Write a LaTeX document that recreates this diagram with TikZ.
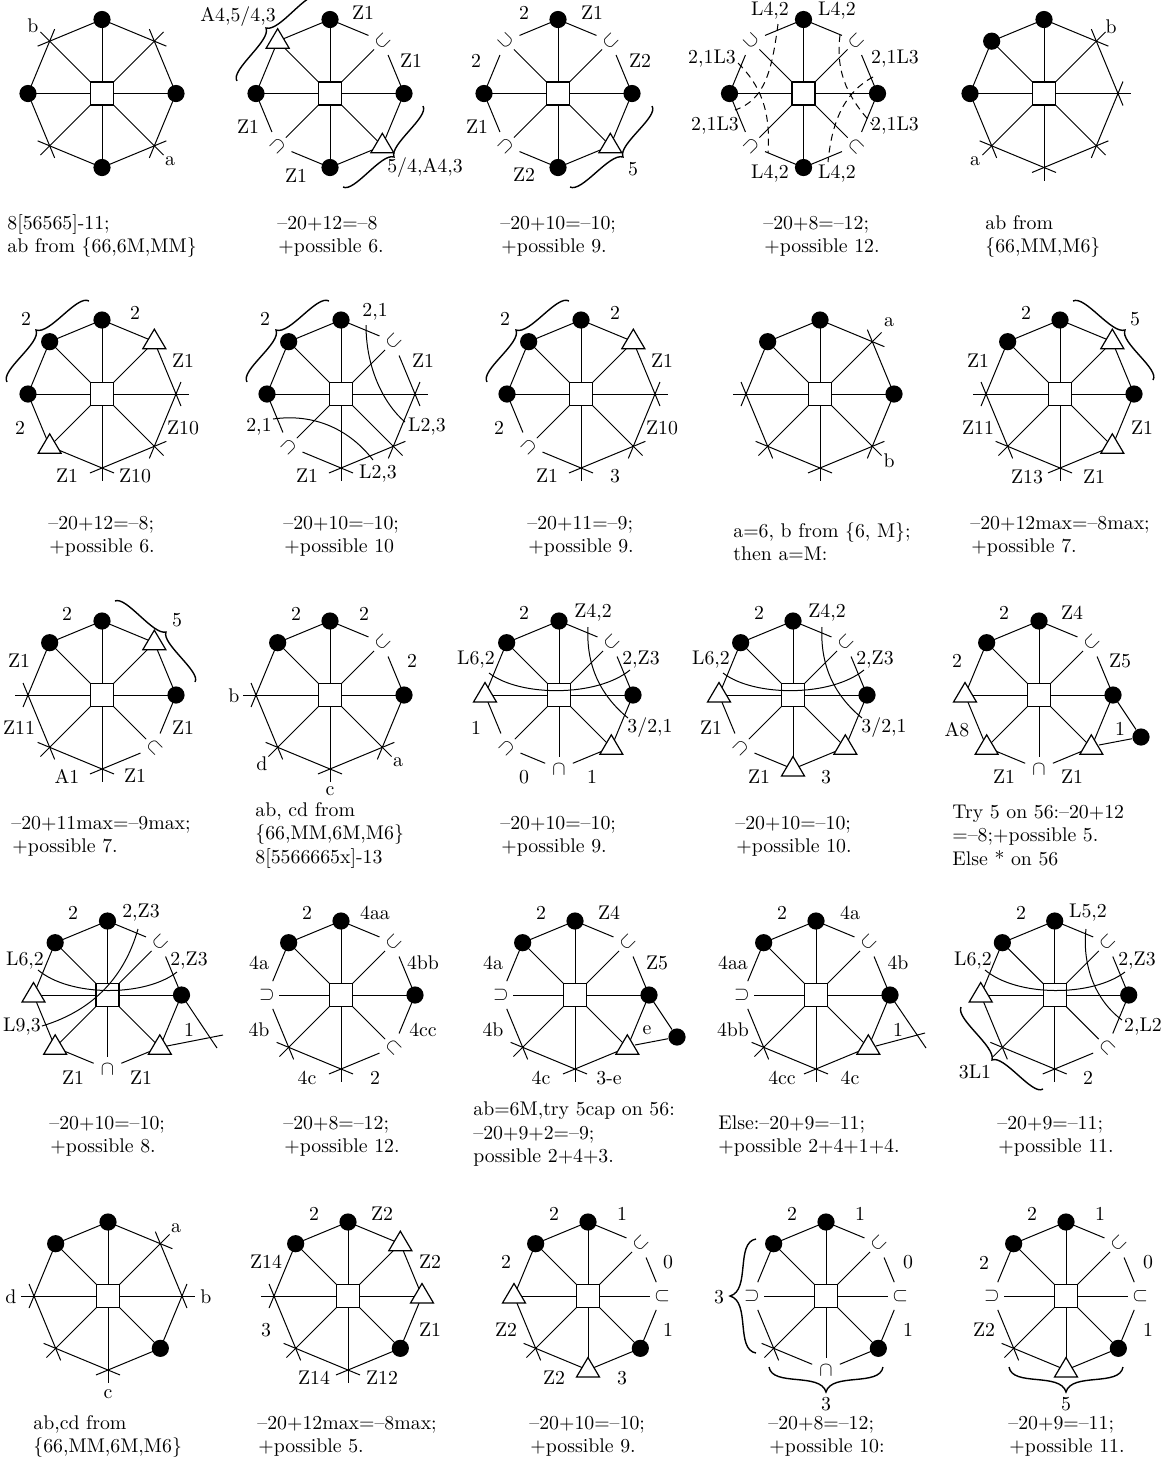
\documentclass[tikz,border=0pt]{standalone}
\usetikzlibrary{calc}
\newcount\lbn
\tikzset{
  x=0.5pt,y=-0.5pt,
  octline/.style={line width=0.5pt},
  sqbox/.style={draw,line width=0.6pt,fill=white,rectangle,minimum size=11.5pt,inner sep=0pt},
  dotv/.style={circle,fill=black,minimum size=8.6pt,inner sep=0pt},
  cupv/.style={inner sep=0pt},
  triv/.style={draw,fill=white,line width=0.6pt,line join=miter},
  lbl/.style={inner sep=0pt,anchor=center},
  txt/.style={inner sep=0pt,anchor=base west},
  arcl/.style={line width=0.5pt},
  dashl/.style={line width=0.5pt,dash pattern=on 3.5pt off 2.5pt},
  brc/.style={line width=0.7pt},
}
% shortening of edges and spokes at a vertex of each type
\expandafter\def\csname edd\endcsname{0pt}
\expandafter\def\csname edx\endcsname{-6.5pt}
\expandafter\def\csname edu\endcsname{7.5pt}
\expandafter\def\csname edt\endcsname{0pt}
\expandafter\def\csname spd\endcsname{0pt}
\expandafter\def\csname spx\endcsname{-6.5pt}
\expandafter\def\csname spu\endcsname{5.8pt}
\expandafter\def\csname spt\endcsname{0pt}
\newcommand\mkd[2]{\node[dotv] (#1m) at (#1) {};}
\newcommand\mkx[2]{}
\newcommand\mku[2]{\pgfmathsetmacro\rr{-45*#2}\node[cupv,rotate=\rr] (#1m) at (#1) {$\cup$};}
\newcommand\mkt[2]{\draw[triv] ($(#1)+(0,-12.5)$) -- ($(#1)+(11.5,7)$) -- ($(#1)+(-11.5,7)$) -- cycle;}
\newcommand\oct[4]{%
  \coordinate (#1c) at (#2,#3);
  \foreach \t [count=\i from 0] in {#4} {
    \coordinate (#1v\i) at ($(#1c)+(-90+45*\i:74)$);
    \expandafter\xdef\csname oct\i\endcsname{\t}
  }
  \foreach \i in {0,...,7} {
    \pgfmathtruncatemacro\j{mod(\i+1,8)}
    \edef\ta{\csname oct\i\endcsname}
    \edef\tb{\csname oct\j\endcsname}
    \draw[octline,shorten <=\csname ed\ta\endcsname,shorten >=\csname ed\tb\endcsname] (#1v\i) -- (#1v\j);
    \draw[octline,shorten >=\csname sp\ta\endcsname] (#1c) -- (#1v\i);
  }
  \node[sqbox] (#1s) at (#1c) {};
  \foreach \i in {0,...,7} {
    \edef\ta{\csname oct\i\endcsname}
    \csname mk\ta\endcsname{#1v\i}{\i}
  }
}
\newcommand\lb[3]{\global\advance\lbn by 1 \node[lbl] (L\the\lbn) at (#1,#2) {#3};}
\newcommand\tx[3]{\global\advance\lbn by 1 \node[txt] (L\the\lbn) at (#1,#2) {#3};}
% curly brace through end A, tip T, end B
\newcommand\cbr[6]{%
  \pgfmathsetmacro\mx{(#1+#5)/2}\pgfmathsetmacro\my{(#2+#6)/2}
  \pgfmathsetmacro\nx{#3-\mx}\pgfmathsetmacro\ny{#4-\my}
  \pgfmathsetmacro\sx{\mx-#1}\pgfmathsetmacro\sy{\my-#2}
  \draw[brc] (#1,#2)
    .. controls ({#1+.8*\nx+.06*\sx},{#2+.8*\ny+.06*\sy}) and ({#3-.8*\nx-.1*\sx},{#4-.8*\ny-.1*\sy}) .. (#3,#4)
    .. controls ({#3-.8*\nx+.1*\sx},{#4-.8*\ny+.1*\sy}) and ({#5+.8*\nx-.06*\sx},{#6+.8*\ny-.06*\sy}) .. (#5,#6);
}
\begin{document}
\begin{tikzpicture}[font=\fontsize{9.9}{12}\selectfont]
\path[use as bounding box,clip] (0,0) rectangle (1165,1463);
% ---------- row 1
\oct{a}{102}{93.5}{d,x,d,x,d,x,d,x}
\lb{33}{26}{b}\lb{170}{161}{a}
\tx{7}{229}{8[56565]-11;}\tx{7}{252.5}{ab from \{66,6M,MM\}}

\oct{b}{330}{93.5}{d,u,d,t,d,u,d,t}
\lb{238}{17}{A4,5/4,3}\lb{363}{13}{Z1}\lb{411}{61}{Z1}\lb{248}{127}{Z1}\lb{296}{176}{Z1}\lb{425}{168}{5/4,A4,3}
\cbr{237}{81}{266}{28}{319}{-4}
\cbr{423}{106}{394}{157}{343}{187}
\tx{277}{229}{–20+12=–8}\tx{278}{252.5}{+possible 6.}

\oct{c}{558}{93.5}{d,u,d,t,d,u,d,u}
\lb{524}{13}{2}\lb{592}{13}{Z1}\lb{476}{61}{2}\lb{640}{61}{Z2}\lb{477}{127}{Z1}\lb{524}{175}{Z2}\lb{633}{169}{5}
\cbr{652}{106}{623}{157}{570}{187}
\tx{500}{229}{–20+10=–10;}\tx{501}{252.5}{+possible 9.}

\oct{d}{803.5}{93.5}{d,u,d,u,d,u,d,u}
\lb{770}{11}{L4,2}\lb{837}{11}{L4,2}\lb{712}{59}{2,1L3}\lb{895}{59}{2,1L3}\lb{715}{126}{2,1L3}\lb{895}{126}{2,1L3}\lb{770}{174}{L4,2}\lb{837}{174}{L4,2}
\draw[dashl] (778,24) .. controls (772,70) and (765,100) .. (735,110);
\draw[dashl] (738,63) .. controls (760,85) and (771,110) .. (768,153);
\draw[dashl] (840,35) .. controls (835,75) and (850,100) .. (873,125);
\draw[dashl] (873,77) .. controls (845,92) and (832,120) .. (828,162);
\tx{763}{229}{–20+8=–12;}\tx{764}{252.5}{+possible 12.}

\oct{e}{1044}{93.5}{d,x,x,x,x,x,d,d}
\lb{1111}{27}{b}\lb{975}{161}{a}
\tx{985}{229}{ab from}\tx{985}{252.5}{\{66,MM,M6\}}

% ---------- row 2
\oct{f}{102}{394}{d,t,x,x,x,t,d,d}
\lb{26}{319}{2}\lb{135}{313}{2}\lb{183}{361}{Z1}\lb{20}{428}{2}\lb{183}{428}{Z10}\lb{67}{476}{Z1}\lb{135}{476}{Z10}
\cbr{7}{382}{36}{330}{89}{301}
\tx{48}{529}{–20+12=–8;}\tx{49}{552.5}{+possible 6.}

\oct{g}{341}{394}{d,u,x,x,x,u,d,d}
\lb{265}{319}{2}\lb{375}{312}{2,1}\lb{423}{361}{Z1}\lb{259}{427}{2,1}\lb{427}{427}{L2,3}\lb{307}{476}{Z1}\lb{378}{474}{L2,3}
\cbr{247}{382}{276}{330}{329}{301}
\draw[arcl] (366,325) .. controls (366,370) and (385,405) .. (405,422);
\draw[arcl] (273,419) .. controls (315,413) and (350,430) .. (373,460);
\tx{283}{529}{–20+10=–10;}\tx{284}{552.5}{+possible 10}

\oct{h}{581}{394}{d,t,x,x,x,u,d,d}
\lb{505}{319}{2}\lb{615}{313}{2}\lb{662}{361}{Z1}\lb{499}{428}{2}\lb{662}{428}{Z10}\lb{547}{476}{Z1}\lb{615}{476}{3}
\cbr{487}{382}{516}{330}{569}{301}
\tx{527}{529}{–20+11=–9;}\tx{528}{552.5}{+possible 9.}

\oct{i}{820}{394}{d,x,d,x,x,x,x,d}
\lb{889}{322}{a}\lb{889}{461}{b}
\tx{733}{537}{a=6, b from \{6, M\};}\tx{733}{560}{then a=M:}

\oct{j}{1060}{394}{d,t,d,t,x,x,x,d}
\lb{1026}{313}{2}\lb{1135}{319}{5}\lb{978}{361}{Z1}\lb{978}{428}{Z11}\lb{1142}{428}{Z1}\lb{1027}{477}{Z13}\lb{1094}{477}{Z1}
\cbr{1073}{301}{1125}{330}{1153}{380}
\tx{970}{529}{–20+12max=–8max;}\tx{971}{552.5}{+possible 7.}

% ---------- row 3
\oct{k}{102}{695}{d,t,d,u,x,x,x,d}
\lb{67}{614}{2}\lb{177}{620}{5}\lb{19}{661}{Z1}\lb{183}{728}{Z1}\lb{19}{728}{Z11}\lb{67}{776}{A1}\lb{135}{776}{Z1}
\cbr{115}{601}{166}{632}{195}{682}
\tx{11}{829}{–20+11max=–9max;}\tx{12}{852.5}{+possible 7.}

\oct{l}{330}{695}{d,u,d,x,x,x,x,d}
\lb{296}{614}{2}\lb{364}{614}{2}\lb{412}{661}{2}\lb{234}{696}{b}\lb{398}{762}{a}\lb{262}{764}{d}\lb{330}{791}{c}
\tx{255}{816}{ab, cd from}\tx{255}{839.5}{\{66,MM,6M,M6\}}\tx{255}{863}{8[5566665x]-13}

\oct{m}{559}{695}{d,u,d,t,u,u,t,d}
\lb{524}{613}{2}\lb{593}{613}{Z4,2}\lb{476}{660}{L6,2}\lb{641}{660}{2,Z3}\lb{476}{728}{1}\lb{650}{728}{3/2,1}\lb{524}{777}{0}\lb{592}{777}{1}
\draw[arcl] (489,673) .. controls (520,697) and (597,697) .. (630,670);
\draw[arcl] (588,627) .. controls (586,665) and (600,695) .. (628,718);
\tx{500}{829}{–20+10=–10;}\tx{501}{852.5}{+possible 9.}

\oct{n}{793}{695}{d,u,d,t,t,u,t,d}
\lb{759}{613}{2}\lb{827}{613}{Z4,2}\lb{711}{660}{L6,2}\lb{875}{660}{2,Z3}\lb{711}{728}{Z1}\lb{884}{728}{3/2,1}\lb{759}{777}{Z1}\lb{826}{777}{3}
\draw[arcl] (723,673) .. controls (754,697) and (831,697) .. (864,670);
\draw[arcl] (822,627) .. controls (820,665) and (834,695) .. (862,718);
\tx{735}{829}{–20+10=–10;}\tx{736}{852.5}{+possible 10.}

\oct{o}{1039}{695}{d,u,d,t,u,t,t,d}
\node[dotv] (ox) at (1141,737) {};
\draw[octline] (ov2) -- (ox);\draw[octline] (1099,745) -- (ox);
\lb{1004}{613}{2}\lb{1072}{613}{Z4}\lb{957}{661}{2}\lb{1120}{661}{Z5}\lb{957}{730}{A8}\lb{1120}{729}{1}\lb{1004}{777}{Z1}\lb{1072}{777}{Z1}
\tx{952}{818}{Try 5 on 56:–20+12}\tx{952}{841.5}{=–8;+possible 5.}\tx{952}{865}{Else * on 56}

% ---------- row 4
\oct{p}{107.5}{995}{d,u,d,t,u,t,t,d}
\lb{73}{913}{2}\lb{141}{913}{2,Z3}\lb{25}{961}{L6,2}\lb{189}{961}{2,Z3}\lb{22}{1027}{L9,3}\lb{189}{1030}{1}\lb{73}{1078}{Z1}\lb{141}{1078}{Z1}
\draw[arcl] (38,970) .. controls (70,997) and (145,997) .. (177,972);
\draw[arcl] (138,929) .. controls (125,975) and (95,1010) .. (42,1026);
\draw[octline] (pv2) -- (217,1048);
\draw[octline] (167,1046) -- (223,1035);
\tx{49}{1129}{–20+10=–10;}\tx{50}{1152.5}{+possible 8.}

\oct{q}{341}{995}{d,u,d,u,x,x,u,d}
\lb{307}{913}{2}\lb{375}{913}{4aa}\lb{259}{963}{4a}\lb{423}{963}{4bb}\lb{259}{1030}{4b}\lb{423}{1030}{4cc}\lb{307}{1078}{4c}\lb{375}{1078}{2}
\tx{283}{1129}{–20+8=–12;}\tx{284}{1152.5}{+possible 12.}

\oct{r}{575}{995}{d,u,d,t,x,x,u,d}
\node[dotv] (rx) at (677,1037) {};
\draw[octline] (rv2) -- (rx);\draw[octline] (635,1045) -- (rx);
\lb{541}{913}{2}\lb{609}{913}{Z4}\lb{493}{963}{4a}\lb{657}{963}{Z5}\lb{493}{1030}{4b}\lb{647}{1030}{e}\lb{541}{1078}{4c}\lb{609}{1078}{3-e}
\tx{473}{1115}{ab=6M,try 5cap on 56:}\tx{473}{1139}{–20+9+2=–9;}\tx{473}{1162.5}{possible 2+4+3.}

\oct{s}{816}{995}{d,u,d,t,x,x,u,d}
\draw[octline] (sv2) -- (926,1048);
\draw[octline] (876,1046) -- (925,1033);
\lb{782}{913}{2}\lb{850}{913}{4a}\lb{733}{963}{4aa}\lb{898}{963}{4b}\lb{733}{1030}{4bb}\lb{898}{1030}{1}\lb{782}{1078}{4cc}\lb{850}{1078}{4c}
\tx{718}{1129}{Else:–20+9=–11;}\tx{718}{1152.5}{+possible 2+4+1+4.}

\oct{t}{1054.7}{995}{d,u,d,u,x,x,t,d}
\lb{1021}{913}{2}\lb{1088}{913}{L5,2}\lb{973}{961}{L6,2}\lb{1137}{961}{2,Z3}\lb{1143}{1027}{2,L2}\lb{975}{1072}{3L1}\lb{1088}{1078}{2}
\draw[arcl] (985,970) .. controls (1017,997) and (1092,997) .. (1125,972);
\draw[arcl] (1086,929) .. controls (1082,965) and (1095,1000) .. (1122,1020);
\cbr{961}{1007}{992}{1060}{1043}{1089}
\tx{997}{1129}{–20+9=–11;}\tx{998}{1152.5}{+possible 11.}

% ---------- row 5
\oct{u}{108}{1296}{d,x,x,d,x,x,x,d}
\lb{176}{1228}{a}\lb{206}{1297}{b}\lb{108}{1394}{c}\lb{11}{1297}{d}
\tx{33}{1429}{ab,cd from}\tx{33}{1452.5}{\{66,MM,6M,M6\}}

\oct{v}{348}{1296}{d,t,t,d,x,x,x,d}
\lb{314}{1214}{2}\lb{382}{1214}{Z2}\lb{266}{1262}{Z14}\lb{430}{1262}{Z2}\lb{266}{1330}{3}\lb{430}{1330}{Z1}\lb{314}{1378}{Z14}\lb{382}{1378}{Z12}
\tx{257}{1429}{–20+12max=–8max;}\tx{258}{1452.5}{+possible 5.}

\oct{w}{588}{1296}{d,u,u,d,t,x,t,d}
\lb{554}{1214}{2}\lb{622}{1214}{1}\lb{668}{1262}{0}\lb{506}{1262}{2}\lb{668}{1330}{1}\lb{506}{1330}{Z2}\lb{554}{1378}{Z2}\lb{622}{1378}{3}
\tx{529}{1429}{–20+10=–10;}\tx{530}{1452.5}{+possible 9.}

\oct{y}{826}{1296}{d,u,u,d,u,x,u,d}
\lb{792}{1214}{2}\lb{860}{1214}{1}\lb{908}{1262}{0}\lb{908}{1330}{1}\lb{719}{1297}{3}\lb{826}{1404}{3}
\cbr{756}{1239}{730}{1296}{756}{1353}
\cbr{769}{1367}{826}{1392}{883}{1367}
\tx{768}{1429}{–20+8=–12;}\tx{769}{1452.5}{+possible 10:}

\oct{z}{1066}{1296}{d,u,u,d,t,x,u,d}
\lb{1032}{1214}{2}\lb{1100}{1214}{1}\lb{984}{1263}{2}\lb{1148}{1262}{0}\lb{984}{1330}{Z2}\lb{1148}{1330}{1}\lb{1066}{1404}{5}
\cbr{1009}{1367}{1066}{1392}{1123}{1367}
\tx{1008}{1429}{–20+9=–11;}\tx{1009}{1452.5}{+possible 11.}
\end{tikzpicture}
\end{document}
